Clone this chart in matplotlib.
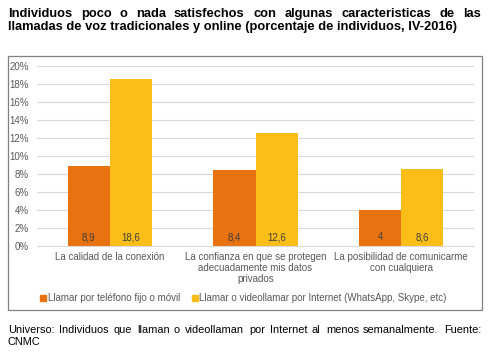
import matplotlib
matplotlib.use("Agg")
import matplotlib.pyplot as plt
from matplotlib.lines import Line2D
from matplotlib.patches import Rectangle

categories = ["La calidad de la conexión",
              "La confianza en que se protegen\nadecuadamente mis datos\nprivados",
              "La posibilidad de comunicarme\ncon cualquiera"]
fijo_movil = [8.9, 8.4, 4.0]
internet = [18.6, 12.6, 8.6]
fijo_labels = ["8,9", "8,4", "4"]
internet_labels = ["18,6", "12,6", "8,6"]
series_names = ["Llamar por teléfono fijo o móvil",
                "Llamar o videollamar por Internet (WhatsApp, Skype, etc)"]
yticks = [0, 2, 4, 6, 8, 10, 12, 14, 16, 18, 20]
ytick_labels = [f"{v}%" for v in yticks]
title_lines = ["Individuos poco o nada satisfechos con algunas caracteristicas de las",
               "llamadas de voz tradicionales y online (porcentaje de individuos, IV-2016)"]
footer_lines = ["Universo: Individuos que llaman o videollaman por Internet  al menos semanalmente. Fuente:",
                "CNMC"]

plt.rcParams['font.family'] = ['Liberation Sans', 'DejaVu Sans']
W, H = 500, 355
fig = plt.figure(figsize=(5, 3.55), dpi=100)
ORANGE = "#E8720F"
YELLOW = "#FBBD18"
GRAY = "#595959"

def fx(px):
    return px / W

def fy(py):
    return 1 - py / H

# outer frame
fig.patches.append(Rectangle((fx(8), fy(310)), fx(482) - fx(8), fy(56) - fy(310),
                             transform=fig.transFigure, fill=False,
                             edgecolor="#808080", lw=0.9))

ax = fig.add_axes([fx(37), fy(246), fx(474) - fx(37), fy(66) - fy(246)])
x = list(range(len(categories)))
w = 0.29
b1 = ax.bar([i - w / 2 for i in x], fijo_movil, w, color=ORANGE)
b2 = ax.bar([i + w / 2 for i in x], internet, w, color=YELLOW)
for bars, labs in ((b1, fijo_labels), (b2, internet_labels)):
    for r, lab in zip(bars, labs):
        ax.text(r.get_x() + r.get_width() / 2, 1.0, lab, ha="center", va="center",
                fontsize=7, color="#404040")
ax.set_xlim(-0.5, 2.5)
ax.set_ylim(0, 20)
ax.set_yticks(yticks)
ax.set_yticklabels(ytick_labels, fontsize=7, color=GRAY)
ax.set_xticks(x)
ax.set_xticklabels(categories, fontsize=7, color=GRAY, linespacing=1.15)
ax.tick_params(axis="both", length=0, pad=4)
ax.tick_params(axis="y", pad=6)
ax.grid(axis="y", color="#D9D9D9", lw=0.8)
ax.set_axisbelow(True)
for s in ["top", "right", "left"]:
    ax.spines[s].set_visible(False)
ax.spines["bottom"].set_color("#D9D9D9")

handles = [Line2D([], [], marker="s", ls="", color=ORANGE, markersize=4),
           Line2D([], [], marker="s", ls="", color=YELLOW, markersize=4)]
leg = fig.legend(handles, series_names, loc="center left", ncol=2,
                 bbox_to_anchor=(fx(40), fy(298)), frameon=False, fontsize=7,
                 handlelength=0.6, handletextpad=0.2, columnspacing=1.2,
                 borderaxespad=0, borderpad=0)
for t in leg.get_texts():
    t.set_color(GRAY)

# justified text helper
fig.canvas.draw()
renderer = fig.canvas.get_renderer()

def justified(line, y, x0, x1, **kw):
    words = line.split()
    texts = [fig.text(0, fy(y), wd, va="baseline", **kw) for wd in words]
    widths = [t.get_window_extent(renderer).width for t in texts]
    gap = ((x1 - x0) - sum(widths)) / max(len(words) - 1, 1)
    pos = x0
    for t, wd in zip(texts, widths):
        t.set_x(fx(round(pos)))
        pos += wd + gap

justified(title_lines[0], 17, 8, 481, fontsize=9.3, fontweight="bold")
fig.text(fx(8), fy(30), title_lines[1], va="baseline", fontsize=9.3, fontweight="bold")
justified(footer_lines[0], 333, 8, 481, fontsize=7.9)
fig.text(fx(8), fy(345), footer_lines[1], va="baseline", fontsize=7.9)

fig.savefig("out.png", dpi=100)
